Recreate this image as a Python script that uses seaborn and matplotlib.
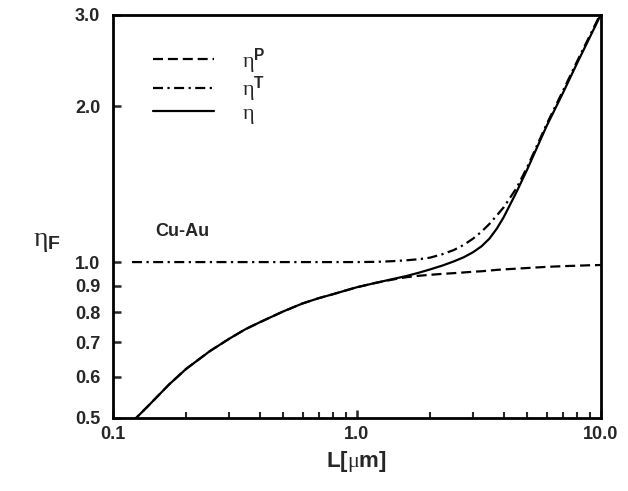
import matplotlib
matplotlib.use("Agg")
import matplotlib.pyplot as plt
import matplotlib.ticker as mticker
import seaborn as sns
import pandas as pd

# ---- data ----
L_um = [0.12, 0.14, 0.17, 0.2, 0.25, 0.3, 0.35, 0.4, 0.5, 0.6, 0.7, 0.8, 1.0,
        1.2, 1.4, 1.6, 1.8, 2.0, 2.25, 2.5, 2.75, 3.0, 3.25, 3.5, 3.75, 4.0,
        4.5, 5.0, 6.0, 7.0, 8.0, 9.0, 10.0]
eta_P = [0.491, 0.528, 0.580, 0.622, 0.673, 0.711, 0.742, 0.765, 0.803, 0.832,
         0.852, 0.867, 0.894, 0.912, 0.925, 0.935, 0.941, 0.945, 0.949, 0.952,
         0.955, 0.958, 0.960, 0.963, 0.966, 0.968, 0.971, 0.974, 0.979, 0.982,
         0.984, 0.986, 0.987]
eta_T = [1.0, 1.0, 1.0, 1.0, 1.0, 1.0, 1.0, 1.0, 1.0, 1.0, 1.0, 1.0, 1.0,
         1.001, 1.004, 1.008, 1.013, 1.02, 1.036, 1.055, 1.08, 1.11, 1.145,
         1.185, 1.23, 1.275, 1.385, 1.525, 1.845, 2.14, 2.44, 2.73, 3.02]
eta = [0.491, 0.528, 0.580, 0.622, 0.673, 0.711, 0.742, 0.765, 0.803, 0.832,
       0.852, 0.867, 0.894, 0.912, 0.927, 0.940, 0.954, 0.968, 0.985, 1.003,
       1.022, 1.045, 1.073, 1.11, 1.16, 1.22, 1.36, 1.51, 1.83, 2.12, 2.42,
       2.71, 3.0]
labels = [r"$\mathrm{\eta}^{\mathbf{P}}$", r"$\mathrm{\eta}^{\mathbf{T}}$",
          r"$\mathrm{\eta}$"]
x_ticks = [0.1, 1.0, 10.0]
x_ticklabels = ["0.1", "1.0", "10.0"]
y_ticks = [0.5, 0.6, 0.7, 0.8, 0.9, 1.0, 2.0, 3.0]
y_ticklabels = ["0.5", "0.6", "0.7", "0.8", "0.9", "1.0", "2.0", "3.0"]

df = pd.DataFrame({"L": L_um, "etaP": eta_P, "etaT": eta_T, "eta": eta})

sns.set_style("ticks")
plt.rcParams["font.family"] = ["Liberation Sans", "DejaVu Sans"]
plt.rcParams["mathtext.fontset"] = "custom"
plt.rcParams["mathtext.rm"] = "Liberation Serif"
plt.rcParams["mathtext.it"] = "Liberation Serif:italic"
plt.rcParams["mathtext.bf"] = "Liberation Sans:bold"
plt.rcParams["mathtext.sf"] = "Liberation Sans"

fig = plt.figure(figsize=(6.28, 4.91), dpi=100)
ax = fig.add_axes([0.1795, 0.1487, 0.777, 0.8208])

sns.lineplot(data=df, x="L", y="etaP", ax=ax, color="black", lw=1.6,
             linestyle=(0, (4.5, 2.2)), label=labels[0])
sns.lineplot(data=df, x="L", y="etaT", ax=ax, color="black", lw=1.6,
             linestyle=(0, (4.5, 2.0, 1.0, 2.0)), label=labels[1])
sns.lineplot(data=df, x="L", y="eta", ax=ax, color="black", lw=1.6,
             linestyle="-", label=labels[2])

ax.set_xscale("log")
ax.set_yscale("log")
ax.set_xlim(0.1, 10.0)
ax.set_ylim(0.5, 3.0)

ax.set_xticks(x_ticks)
ax.set_xticklabels(x_ticklabels)
ax.xaxis.set_minor_locator(mticker.LogLocator(base=10, subs=range(2, 10)))
ax.xaxis.set_minor_formatter(mticker.NullFormatter())
ax.set_yticks(y_ticks)
ax.set_yticklabels(y_ticklabels)
ax.yaxis.set_minor_locator(mticker.NullLocator())

for s in ax.spines.values():
    s.set_visible(True)
    s.set_linewidth(2.0)
    s.set_color("black")

ax.tick_params(axis="both", which="major", direction="in", length=6, width=1.8,
               labelsize=13, top=False, right=False)
ax.tick_params(axis="x", which="major", pad=6)
ax.tick_params(axis="y", which="major", pad=9)
ax.tick_params(axis="x", which="minor", direction="in", length=4, width=1.5,
               top=False)
for t in ax.get_xticklabels() + ax.get_yticklabels():
    t.set_fontweight("bold")

ax.set_xlabel(r"L[$\mathrm{\mu}$m]", fontsize=16, fontweight="bold", labelpad=4)
ax.set_ylabel("")
fig.text(0.074, 0.51, r"$\mathrm{\eta}_{\mathbf{F}}$", fontsize=20,
         ha="center", va="center")

ax.text(0.087, 0.4615, "Cu-Au", transform=ax.transAxes, fontsize=13,
        fontweight="bold", ha="left", va="center")

leg = ax.legend(loc="upper left", bbox_to_anchor=(0.065, 0.945), frameon=False,
                fontsize=16, handlelength=2.75, handletextpad=1.25,
                labelspacing=-0.05, borderaxespad=0)

fig.savefig("out.png", dpi=100)
